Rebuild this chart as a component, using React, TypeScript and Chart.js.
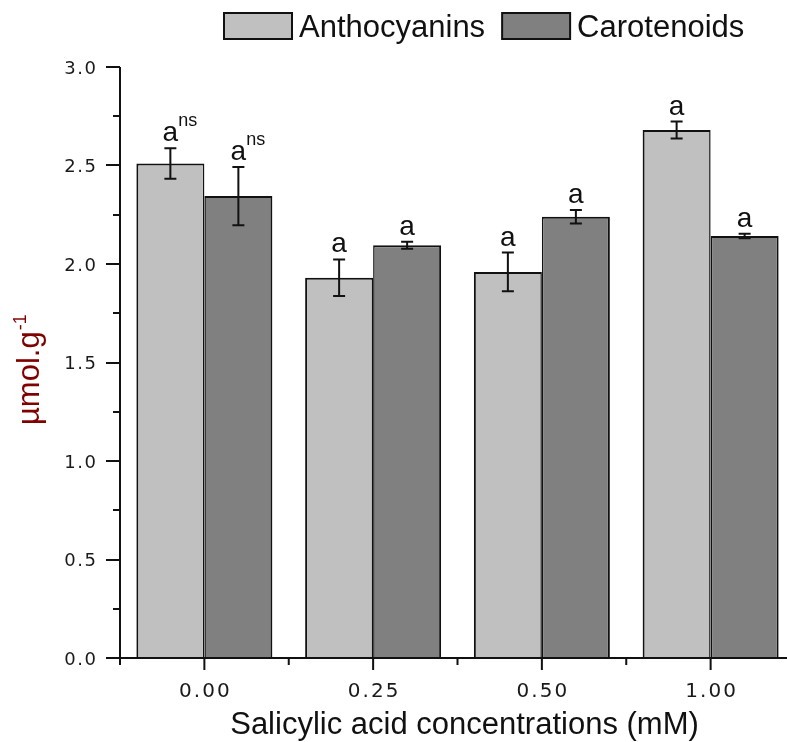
import React, { useEffect, useRef } from "react";
import { Chart, registerables } from "chart.js";

Chart.register(...registerables);

const categories = ["0.00", "0.25", "0.50", "1.00"];
const seriesNames = ["Anthocyanins", "Carotenoids"];
const anthocyanins = [2.51, 1.93, 1.96, 2.68];
const anthocyaninsErr = [0.077, 0.093, 0.098, 0.043];
const carotenoids = [2.345, 2.095, 2.24, 2.142];
const carotenoidsErr = [0.148, 0.018, 0.034, 0.011];
const anthocyaninsLetters = ["a", "a", "a", "a"];
const anthocyaninsSup = ["ns", "", "", ""];
const carotenoidsLetters = ["a", "a", "a", "a"];
const carotenoidsSup = ["ns", "", "", ""];
const yTickValues = [0, 0.5, 1.0, 1.5, 2.0, 2.5, 3.0];
const yTickLabels = ["0.0", "0.5", "1.0", "1.5", "2.0", "2.5", "3.0"];
const yMinorTicks = [0.25, 0.75, 1.25, 1.75, 2.25, 2.75];
const xTitle = "Salicylic acid concentrations (mM)";
const yTitle = "µmol.g";
const yTitleSup = "-1";

const colors = ["#c0c0c0", "#808080"];
const SANS = '"Liberation Sans", Arial, sans-serif';
const TICKFONT = '"DejaVu Sans", Verdana, sans-serif';

const customPlugin = {
  id: "customDraw",
  afterDatasetsDraw(chart: any) {
    const ctx = chart.ctx;
    const y = chart.scales.y;
    ctx.save();
    chart.data.datasets.forEach((ds: any, di: number) => {
      const meta = chart.getDatasetMeta(di);
      meta.data.forEach((bar: any, i: number) => {
        const v = ds.data[i];
        const e = ds.errors[i];
        const yt = y.getPixelForValue(v + e);
        const yb = y.getPixelForValue(v - e);
        ctx.strokeStyle = "#111";
        ctx.lineWidth = 2;
        ctx.beginPath();
        ctx.moveTo(bar.x, yt);
        ctx.lineTo(bar.x, yb);
        ctx.moveTo(bar.x - 6, yt);
        ctx.lineTo(bar.x + 6, yt);
        ctx.moveTo(bar.x - 6, yb);
        ctx.lineTo(bar.x + 6, yb);
        ctx.stroke();
        // letters
        ctx.fillStyle = "#111";
        ctx.font = "28px " + SANS;
        ctx.textAlign = "center";
        ctx.textBaseline = "alphabetic";
        const letter = ds.letters[i];
        const base = yt - 7;
        ctx.fillText(letter, bar.x, base);
        const sup = ds.sups[i];
        if (sup) {
          const w = ctx.measureText(letter).width;
          ctx.font = "18px " + SANS;
          ctx.textAlign = "left";
          ctx.fillText(sup, bar.x + w / 2, base - 15);
        }
      });
    });
    ctx.restore();
  },
  afterDraw(chart: any) {
    const ctx = chart.ctx;
    const ca = chart.chartArea;
    const x = chart.scales.x;
    const y = chart.scales.y;
    ctx.save();
    ctx.strokeStyle = "#111";
    ctx.lineWidth = 2;
    // axes
    ctx.beginPath();
    ctx.moveTo(ca.left, ca.top);
    ctx.lineTo(ca.left, ca.bottom);
    ctx.moveTo(ca.left - 14, ca.bottom);
    ctx.lineTo(chart.width, ca.bottom);
    ctx.stroke();
    // y ticks
    ctx.beginPath();
    yTickValues.forEach((v) => {
      const py = Math.round(y.getPixelForValue(v));
      ctx.moveTo(ca.left - 14, py);
      ctx.lineTo(ca.left, py);
    });
    yMinorTicks.forEach((v) => {
      const py = Math.round(y.getPixelForValue(v));
      ctx.moveTo(ca.left - 7, py);
      ctx.lineTo(ca.left, py);
    });
    // x ticks
    const step = (ca.right - ca.left) / categories.length;
    categories.forEach((_, i) => {
      const px = x.getPixelForValue(i);
      ctx.moveTo(px, ca.bottom);
      ctx.lineTo(px, ca.bottom + 12);
      const bx = px - step / 2;
      ctx.moveTo(bx, ca.bottom);
      ctx.lineTo(bx, ca.bottom + 7);
    });
    ctx.stroke();
    // y tick labels
    ctx.fillStyle = "#1a1a1a";
    ctx.font = "18px " + TICKFONT;
    (ctx as any).letterSpacing = "1.5px";
    ctx.textAlign = "right";
    ctx.textBaseline = "alphabetic";
    yTickValues.forEach((v, i) => {
      const py = y.getPixelForValue(v);
      ctx.fillText(yTickLabels[i], 97.5, py + 6.5);
    });
    // x tick labels
    ctx.font = "20px " + TICKFONT;
    (ctx as any).letterSpacing = "2px";
    ctx.textAlign = "center";
    categories.forEach((c, i) => {
      const px = x.getPixelForValue(i);
      ctx.fillText(c, px + 1, 697);
    });
    (ctx as any).letterSpacing = "0px";
    // x title
    ctx.fillStyle = "#111";
    ctx.font = "31px " + SANS;
    ctx.textAlign = "center";
    ctx.fillText(xTitle, 464.5, 734);
    // y title
    ctx.save();
    ctx.translate(38.5, 425);
    ctx.rotate(-Math.PI / 2);
    ctx.fillStyle = "#800000";
    ctx.font = "31px " + SANS;
    ctx.textAlign = "left";
    ctx.fillText(yTitle, 0, 0);
    const tw = ctx.measureText(yTitle).width;
    ctx.font = "18px " + SANS;
    ctx.fillText(yTitleSup, tw + 1, -13);
    ctx.restore();
    // legend
    ctx.font = "31px " + SANS;
    ctx.textAlign = "left";
    const boxW = 68;
    const boxH = 26;
    const gapText = 7;
    const gapItem = 17;
    const widths = seriesNames.map((n) => ctx.measureText(n).width);
    const total = widths.reduce((a, w) => a + boxW + gapText + w, 0) + gapItem * (seriesNames.length - 1);
    let lx = Math.round(484.5 - total / 2);
    seriesNames.forEach((n, i) => {
      ctx.fillStyle = colors[i];
      ctx.fillRect(lx, 13, boxW, boxH);
      ctx.strokeStyle = "#111";
      ctx.lineWidth = 2;
      ctx.strokeRect(lx, 13, boxW, boxH);
      ctx.fillStyle = "#111";
      ctx.fillText(n, lx + boxW + gapText, 37);
      lx += boxW + gapText + widths[i] + gapItem;
    });
    ctx.restore();
  },
};

export default function App() {
  const ref = useRef<HTMLCanvasElement>(null);
  useEffect(() => {
    if (!ref.current) return;
    const chart = new Chart(ref.current, {
      type: "bar",
      data: {
        labels: categories,
        datasets: [
          {
            label: seriesNames[0],
            data: anthocyanins,
            backgroundColor: colors[0],
            borderColor: "#111",
            borderWidth: { top: 2, left: 2, right: 1.5, bottom: 0 },
            borderSkipped: false,
            errors: anthocyaninsErr,
            letters: anthocyaninsLetters,
            sups: anthocyaninsSup,
          } as any,
          {
            label: seriesNames[1],
            data: carotenoids,
            backgroundColor: colors[1],
            borderColor: "#111",
            borderWidth: { top: 2, left: 1.5, right: 2, bottom: 0 },
            borderSkipped: false,
            errors: carotenoidsErr,
            letters: carotenoidsLetters,
            sups: carotenoidsSup,
          } as any,
        ],
      },
      options: {
        responsive: false,
        animation: false,
        devicePixelRatio: 1,
        layout: { padding: { left: 120, right: 1, top: 67, bottom: 84 } },
        categoryPercentage: 0.806,
        barPercentage: 1.0,
        scales: {
          x: { display: false, offset: true },
          y: { display: false, min: 0, max: 3 },
        },
        plugins: { legend: { display: false }, tooltip: { enabled: false } },
      } as any,
      plugins: [customPlugin],
    });
    return () => chart.destroy();
  }, []);
  return (
    <div
      style={{
        position: "absolute",
        left: 0,
        top: 0,
        width: 787,
        height: 742,
        overflow: "hidden",
        background: "#fff",
      }}
    >
      <canvas ref={ref} width={796} height={742} style={{ display: "block" }} />
    </div>
  );
}
